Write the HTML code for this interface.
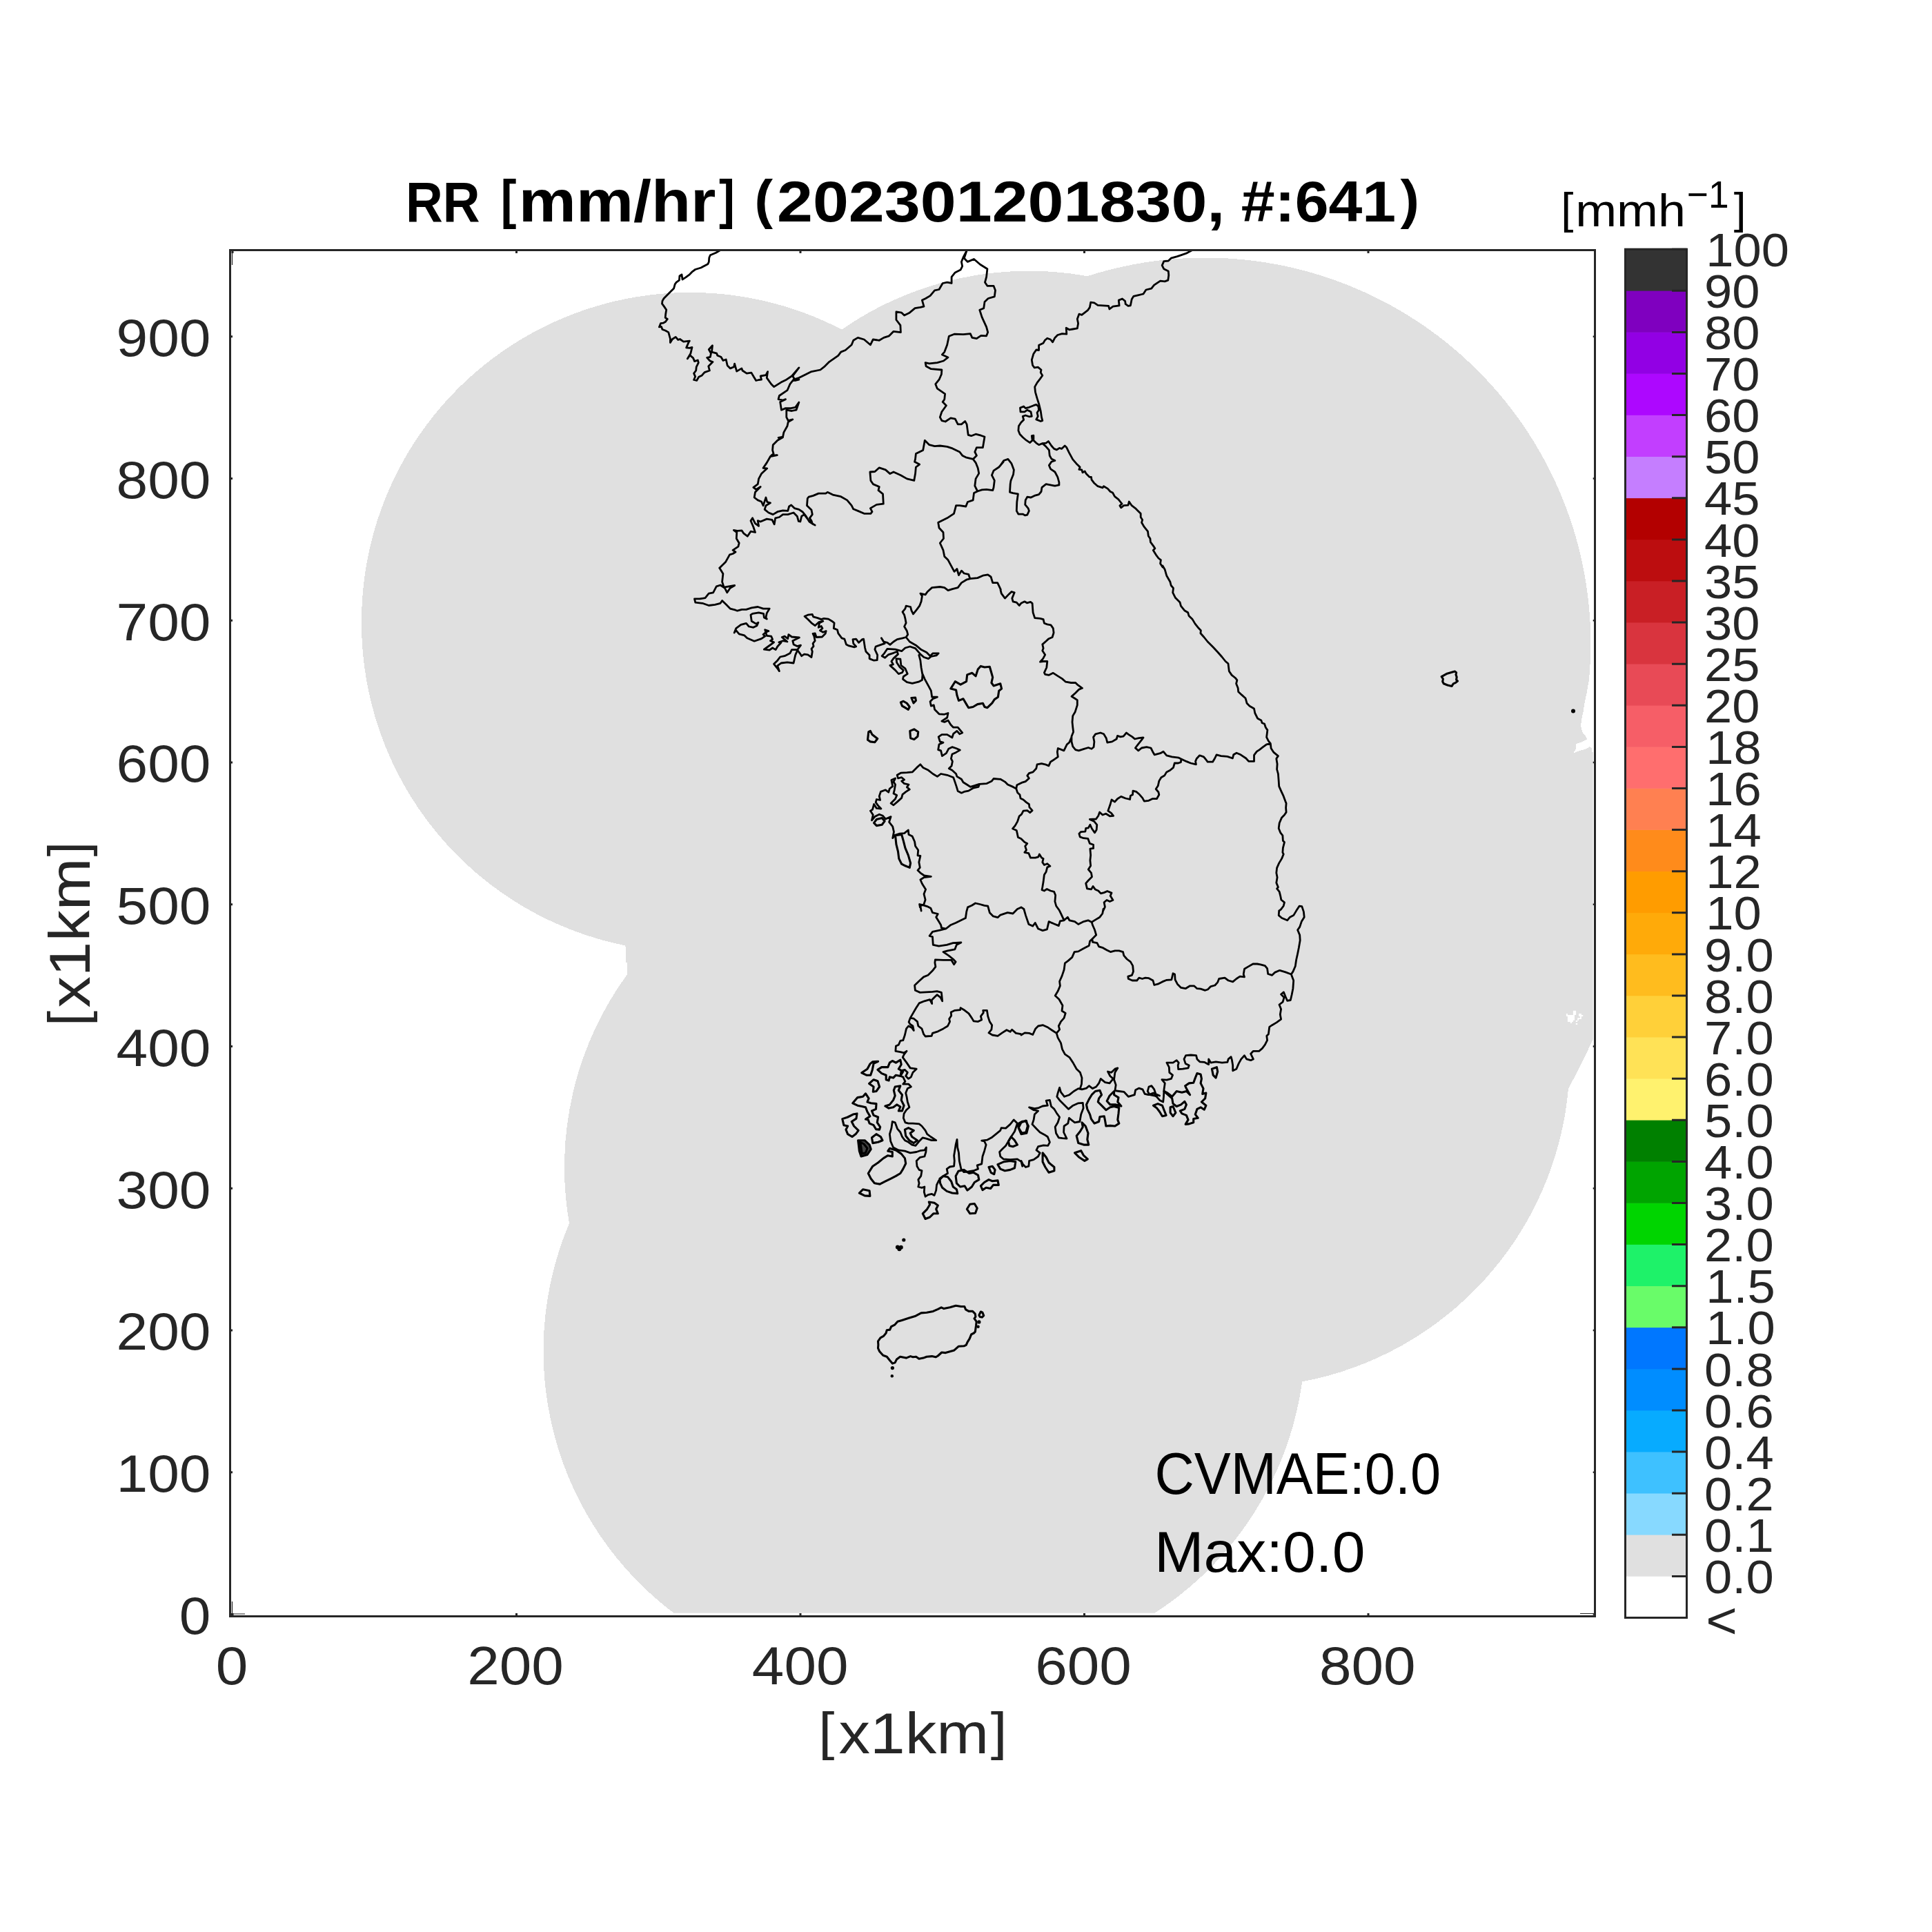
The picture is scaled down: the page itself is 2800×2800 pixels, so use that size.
<!DOCTYPE html>
<html><head><meta charset="utf-8"><title>RR</title>
<style>
html,body{margin:0;padding:0;background:#fff;}
body{width:2800px;height:2800px;overflow:hidden;font-family:"Liberation Sans",sans-serif;}
svg{display:block;position:absolute;left:0;top:0;}
text{font-family:"Liberation Sans",sans-serif;font-size:100px;}
</style></head><body>
<svg width="2800" height="2800" viewBox="0 0 2800 2800">
<defs><clipPath id="axclip"><rect x="335" y="364" width="1973.8" height="1973.8"/></clipPath></defs>

<g clip-path="url(#axclip)">
<path d="M1220.0 477.6A476 476 0 0 1 1576.0 400.2A558.8 558.8 0 0 1 2302.9 985.4L2299.8 1003.5L2296.6 1018.0L2294.6 1031.4L2292.5 1040.7L2291.0 1051.6L2293.5 1061.4L2297.7 1066.6L2300.3 1071.3L2293.5 1074.9L2284.2 1078.0L2283.7 1085.8L2280.0 1091.5L2288.4 1088.4L2298.7 1085.3L2303.9 1082.2L2307.0 1084.2L2307.0 1090.0L2309.6 1090.4L2325.0 1090.4L2325.0 1500.0L2309.5 1504.5L2298.5 1528.0L2286.0 1553.0L2273.0 1578.0A475.4 475.4 0 0 1 1887.2 2002.4A476 476 0 0 1 1673.8 2337.5L1670.0 2350.0L980.0 2350.0L977.4 2338.5A476 476 0 0 1 825.0 1773.0A474.6 474.6 0 0 1 908.9 1412.3L908.9 1395.2L907.3 1395.2L907.3 1372.7L905.7 1370.3A476 476 0 0 1 524.0 903.0A476.3 476.3 0 0 1 1220.0 477.6Z" fill="#e0e0e0" stroke="none" shape-rendering="crispEdges"/>
<path d="M2271.9 1471.1H2279.9V1481.1H2271.9ZM2279.9 1464.8H2284.1V1471.1H2279.9ZM2269.9 1469.0H2271.9V1473.1H2269.9ZM2279.9 1471.1H2282.0V1478.8H2279.9ZM2275.8 1481.1H2278.1V1483.0H2275.8ZM2288.0 1469.0H2291.9V1473.1H2288.0ZM2291.9 1471.1H2294.2V1473.1H2291.9ZM2290.0 1473.1H2291.9V1477.0H2290.0ZM2286.2 1475.2H2290.0V1477.0H2286.2ZM2286.2 1477.0H2288.0V1479.1H2286.2ZM2283.8 1479.1H2286.2V1481.1H2283.8ZM2283.8 1483.0H2286.2V1485.0H2283.8Z" fill="#fff"/>
<path d="M1043.9 362.6L1037.7 366.2L1029.4 369.8L1027.8 373.5L1027.3 379.7L1025.8 382.8L1015.9 388.0L1007.7 390.5L1003.5 393.6L999.4 397.8L993.2 402.4L989.0 405.0L988.0 397.8L984.9 399.9L984.4 406.1L980.2 409.2L978.2 411.8L976.6 418.0L972.5 422.1L966.3 428.3L962.1 432.5L960.0 436.1L959.5 440.2L962.6 444.4L965.7 449.0L964.7 455.2L964.2 460.4L967.3 462.5L964.2 466.6L961.1 468.2L957.5 468.7L955.4 473.9L958.5 473.4L960.0 477.5L964.2 479.0L968.8 481.6L971.4 491.0L971.4 496.6L974.5 491.5L979.2 488.4L982.8 492.5L985.4 491.5L990.6 495.1L999.4 494.1L997.8 496.6L994.7 503.9L999.4 504.4L1003.0 503.4L1000.9 512.2L996.3 519.9L999.9 514.8L1004.6 518.9L1006.6 523.6L1011.3 522.0L1012.3 525.6L1009.2 531.8L1008.7 537.0L1005.6 541.2L1007.7 545.8L1005.6 550.5L1009.7 551.5L1012.8 546.3L1017.0 544.3L1021.1 539.6L1028.4 537.0L1026.8 530.8L1033.0 524.6L1028.9 523.0L1024.7 518.4L1029.4 517.3L1030.4 512.2L1027.3 506.5L1032.5 500.8L1031.5 510.1L1038.7 512.2L1039.8 515.3L1044.9 517.3L1048.0 522.5L1052.2 521.0L1054.2 529.8L1058.4 533.9L1063.6 531.8L1064.6 527.2L1067.7 538.1L1074.9 533.9L1076.0 537.0L1082.2 541.2L1088.9 540.1L1092.5 546.3L1095.7 551.5L1100.0 550.5M1099.9 550.5L1103.5 550.2L1102.2 545.0L1110.0 543.7L1112.6 538.6L1111.3 547.6L1117.8 556.7L1121.6 560.6L1132.0 554.1L1139.8 550.2L1147.5 545.0L1157.9 532.9L1148.8 545.0L1152.7 551.5L1157.9 550.2L1150.1 551.5M1150.1 550.2L1157.9 547.6L1165.6 543.7L1176.0 538.6L1188.9 536.0L1195.4 530.8L1201.9 524.3L1214.8 515.3L1218.7 510.1L1225.2 507.5L1234.2 499.8L1236.8 493.3L1243.3 489.4L1252.3 492.0L1261.4 499.8L1265.3 492.0L1274.3 493.3L1280.8 489.4L1288.6 486.8L1295.0 480.3L1305.4 481.6L1304.9 471.3L1298.9 463.5L1298.9 451.9L1306.7 453.2L1310.6 457.0L1318.3 453.2L1326.1 446.7L1333.9 445.4L1339.0 444.1L1336.4 435.1L1341.6 432.5L1348.1 428.6L1354.6 420.8L1361.0 419.5L1366.2 410.5L1372.7 409.2L1379.1 410.5L1379.1 401.4L1384.3 394.9L1392.1 391.1L1394.7 385.9L1393.4 379.4L1396.0 372.9L1401.1 363.1M1401.1 363.1L1397.3 374.2L1402.4 379.4L1411.5 375.5L1420.5 383.3L1430.9 389.8L1429.6 401.4L1427.5 409.2L1430.9 414.3L1440.0 414.3L1442.5 420.8L1441.3 429.9L1432.2 432.5L1427.0 437.6L1425.7 446.7L1419.8 449.3L1423.1 459.6L1429.6 473.9L1431.7 481.6L1429.6 486.8L1421.8 486.3L1415.4 490.7L1408.9 489.4L1406.3 483.7L1396.0 484.7L1383.0 484.2L1375.3 487.3L1372.7 499.8L1368.8 510.1L1365.4 514.0L1374.0 517.9L1367.5 523.0L1358.4 525.6L1346.8 526.9L1341.1 525.6L1342.1 530.8L1349.4 534.7L1364.9 536.0L1364.4 542.5L1361.0 550.2L1355.8 556.7L1358.4 563.2L1369.6 570.9L1368.8 578.7L1366.2 582.6L1371.4 587.7L1364.9 596.8L1362.3 604.6L1364.9 609.7L1370.1 611.0L1377.8 605.9L1384.3 607.2L1388.2 614.9L1393.4 614.9L1398.6 610.5L1401.1 614.9L1403.2 630.4L1407.6 631.7L1414.1 629.2L1421.8 631.2L1427.0 633.0L1424.4 648.6L1415.4 648.6L1412.8 655.0L1415.4 660.2L1410.2 665.4L1414.1 670.6L1417.2 678.3L1418.7 686.1L1414.1 693.9L1412.8 704.2L1416.7 712.0L1411.5 714.6L1410.2 724.9L1402.4 727.5L1399.8 734.0L1390.8 732.7L1385.6 732.7L1382.5 744.3L1372.7 750.8L1359.7 757.3L1361.0 765.0L1367.0 771.5L1367.5 780.5L1362.3 787.0L1367.0 797.4L1368.8 806.4L1374.0 811.6L1383.0 828.4L1386.9 824.5L1389.5 833.6L1393.4 827.1L1397.3 831.0L1403.7 832.3L1405.8 838.8M1410.2 665.4L1399.8 662.8L1394.7 660.2L1390.8 655.0L1380.4 649.9L1372.7 647.3L1362.3 646.0L1354.6 646.7L1346.8 644.7L1340.3 638.2L1337.7 652.4L1327.4 657.6L1326.6 664.9L1325.6 669.3L1332.6 673.1L1327.4 677.0L1326.6 686.1L1324.8 696.4L1314.4 693.9L1305.4 688.7L1295.0 684.0L1289.9 686.6L1283.4 680.9L1274.3 677.8L1267.9 683.5L1260.9 684.0L1261.9 696.4L1265.3 701.6L1274.3 705.5L1273.0 710.7L1279.5 715.8L1280.3 730.1L1270.4 731.4L1261.4 736.6L1264.0 741.7L1261.9 744.3L1252.3 744.3L1243.3 740.4L1236.8 737.8L1234.2 732.7L1227.7 724.9L1218.7 719.7L1207.0 717.1L1199.3 713.3L1196.7 715.1L1186.3 715.1L1178.6 718.4L1172.1 720.2L1170.3 722.3L1169.5 732.7L1176.0 739.1L1177.3 745.6L1173.4 750.8L1176.0 754.7L1177.3 758.6M1150.1 550.2L1144.9 556.7L1141.0 565.7L1129.4 573.5L1128.1 578.7L1134.6 580.0L1138.5 578.7L1130.7 582.6L1132.5 594.2L1138.5 591.6L1146.2 591.6L1152.7 590.3L1157.9 583.1L1154.0 594.2L1147.5 595.5L1139.8 594.2L1139.8 604.6L1142.3 609.7L1148.8 607.9L1142.3 611.6L1141.0 617.5L1135.9 626.6L1134.6 633.0L1128.1 634.3L1134.6 633.8L1126.8 638.2L1120.3 644.7L1119.6 652.4L1121.1 657.6L1117.8 660.2L1126.3 659.7L1116.5 661.5L1111.3 670.6L1106.1 678.3L1111.8 678.8L1103.5 686.6L1099.6 693.9L1098.3 701.6L1091.9 706.3L1095.8 709.4L1102.2 705.5L1094.5 713.3L1093.2 721.0L1098.3 724.9L1103.5 727.0L1106.1 732.7L1108.7 724.9L1110.0 721.0L1111.8 727.5L1116.5 728.8L1110.0 732.7L1108.2 738.4L1113.9 743.0L1120.3 745.6L1126.8 741.7L1134.6 739.9L1141.8 740.4L1143.6 734.0L1146.7 731.9L1151.4 736.6L1157.9 738.4L1163.0 741.7L1168.2 748.2L1172.9 756.0L1178.6 759.8L1181.2 761.1L1174.7 757.3L1169.5 750.8L1165.6 745.6L1161.7 748.2L1159.9 756.0L1157.3 755.4L1155.3 748.2L1150.1 743.0L1141.8 745.6L1134.6 745.6L1129.4 749.5L1123.7 750.8L1122.2 759.8L1119.0 753.4L1111.3 752.1L1102.2 756.0L1098.3 754.7L1099.6 762.4L1094.5 758.6L1090.6 750.8L1088.0 754.7L1091.9 763.7L1094.5 771.5L1088.0 770.2L1083.3 777.2L1077.6 772.8L1075.1 768.9L1068.6 769.4L1063.4 768.4L1067.8 771.5L1067.3 780.5L1071.2 787.0L1069.9 792.2L1062.1 797.4L1066.0 800.0L1062.1 802.5L1057.5 803.8L1051.8 814.2L1042.7 823.3M1416.7 712.0L1423.1 709.9L1429.6 709.4L1438.7 710.7L1440.0 706.8L1441.3 696.4L1437.4 688.7L1440.0 682.2L1447.7 677.0L1454.2 669.3M1726.9 363.1L1719.2 367.2L1711.4 369.8L1706.2 371.6L1697.2 374.2L1693.3 378.1L1686.8 378.6L1684.2 384.6L1686.8 389.8L1693.3 393.1L1693.8 398.8L1692.8 406.1L1688.1 407.9L1681.6 407.1L1672.6 413.1L1668.7 418.2L1660.9 420.0L1657.0 426.0L1649.3 427.8L1642.8 429.4L1640.2 433.8L1638.4 442.8L1635.0 443.3L1631.2 440.7L1630.6 436.3L1626.5 433.0L1621.3 435.1L1622.1 442.8L1613.0 444.1L1607.9 448.0L1606.6 443.3L1598.8 442.8L1591.0 442.3L1585.9 438.9L1580.7 438.2L1579.4 445.4L1576.8 449.3L1567.8 456.3L1563.9 455.2L1561.3 462.2L1562.6 468.7L1561.3 475.9L1554.8 477.0L1549.6 477.8L1545.2 475.2L1545.8 484.2L1539.3 483.7L1532.8 485.5L1528.9 489.4L1525.6 495.9L1522.5 492.0L1517.8 490.2L1514.2 493.3L1512.1 497.2L1505.6 500.3L1505.6 507.5L1501.8 507.0L1497.9 512.7L1495.3 521.7L1496.6 529.5L1499.2 532.9L1504.3 532.1L1509.0 536.0L1508.2 539.9L1510.8 544.3L1507.5 548.9L1503.1 554.6L1499.7 560.6L1500.5 568.3L1503.1 577.4L1505.6 585.2L1508.2 595.5L1509.5 604.6L1510.8 609.7L1508.2 610.5L1501.8 607.9L1504.3 603.3L1503.1 598.1L1505.6 594.2L1504.9 589.0L1501.8 586.4L1497.9 587.7L1491.4 590.3L1486.2 591.6L1483.6 589.0L1478.5 591.1L1479.0 596.8L1484.9 596.8L1488.8 594.2L1494.0 596.8L1495.3 603.3L1491.4 603.8L1486.2 602.0L1482.3 603.3L1483.6 608.4L1479.8 612.3L1476.4 617.5L1475.9 624.0L1478.0 629.2L1482.3 633.8L1487.5 638.2L1492.7 641.6L1496.1 638.2L1495.3 631.7L1497.9 631.2L1497.9 638.2L1501.8 642.1L1505.6 644.7L1510.8 642.6L1516.0 642.1L1519.4 639.5L1523.8 646.0L1527.6 650.4L1531.5 651.9L1535.4 649.3L1538.5 650.4L1543.2 646.0L1545.8 648.6L1549.6 656.3L1554.8 665.9L1560.0 671.9L1565.2 677.0L1563.9 680.4L1567.8 680.9L1569.0 684.8L1572.2 683.0L1574.2 686.6L1578.9 691.3L1581.5 691.3L1582.0 695.1L1585.9 700.3L1591.0 704.7L1598.0 706.8L1599.6 704.7L1605.3 708.1L1609.2 712.5L1612.5 714.0L1615.6 719.7L1620.8 723.6L1623.9 727.5L1626.0 730.1L1622.9 732.7L1624.7 735.8L1628.6 732.7L1635.0 732.2L1636.3 727.0L1640.2 732.7L1645.4 736.6L1649.3 740.4L1653.2 744.3L1653.2 749.5L1655.7 753.4L1654.5 757.3L1658.3 763.7L1663.5 770.2L1664.3 776.7L1666.9 780.5L1667.4 785.7L1671.3 790.9L1673.9 794.8L1671.3 797.4L1675.2 803.8L1679.0 809.0L1682.4 811.6L1681.6 816.8L1685.0 822.0M1510.8 642.6L1516.0 647.3L1520.4 652.4L1521.2 660.2L1523.8 664.9L1528.9 667.5L1523.8 669.3L1520.4 674.4L1522.5 679.6L1528.9 684.0L1532.8 691.3L1534.9 699.0L1534.9 702.9L1528.9 704.2L1522.5 702.9L1516.0 701.6L1510.0 706.3L1509.0 712.5L1505.6 716.6L1499.2 718.4L1494.0 721.0L1488.8 720.2L1486.2 724.9L1485.7 731.4L1490.1 736.6L1491.4 740.4L1488.8 746.1L1485.7 746.9L1482.3 745.1L1475.9 745.1L1473.3 740.4L1473.8 727.5L1475.4 715.8L1468.1 714.6L1463.5 713.3L1464.2 701.6L1465.0 696.4L1468.6 687.4L1469.4 680.9L1466.0 671.9L1460.9 665.4L1454.7 667.5L1450.0 674.4M1042.7 823.1L1047.9 831.6L1046.6 843.3L1049.2 851.1L1064.7 848.5L1058.2 852.3L1053.8 858.8L1050.5 852.3L1044.0 848.0L1038.3 849.8L1033.6 858.8L1027.2 860.1L1022.0 866.6L1014.2 867.9L1006.5 867.9L1007.8 873.1L1018.1 874.3L1027.2 877.5L1036.2 876.4L1044.0 874.3L1046.6 870.5L1051.8 875.6L1058.2 882.1L1066.0 884.2L1068.6 885.2L1075.1 883.4L1081.5 883.4L1089.3 880.8L1098.3 879.5L1106.1 882.1L1115.2 882.1L1111.3 888.6L1110.0 895.1L1111.3 897.1L1107.4 895.1L1106.6 889.4L1099.6 887.8L1090.6 889.4L1088.0 891.2L1089.3 900.2L1095.8 904.1L1098.9 902.3L1097.0 906.7L1091.9 909.3L1085.4 908.0L1081.5 903.3L1073.8 905.4L1066.8 910.6L1064.2 917.0L1066.8 913.7L1071.2 918.9L1078.9 920.9L1082.8 924.8L1093.2 929.2L1103.5 925.6L1108.7 922.2L1106.1 919.6L1110.0 916.3L1113.9 914.5L1108.7 912.7L1111.3 921.4L1117.8 922.2L1119.6 926.6L1116.5 928.7L1121.6 930.8L1113.9 936.5L1107.4 941.1L1115.2 942.2L1119.6 939.0L1124.2 941.6L1126.8 937.0L1132.0 931.3L1128.9 930.8L1134.6 928.7L1141.0 930.0L1133.3 923.5L1137.2 922.2L1141.8 925.6L1142.9 919.6L1147.5 923.0L1158.4 924.0L1148.8 928.7L1150.1 933.9L1155.3 936.5L1160.5 935.2L1156.6 940.3L1152.7 949.4L1150.1 961.0L1141.0 959.8L1132.0 961.0L1126.8 964.9L1129.4 972.7L1126.8 968.8L1121.6 962.3L1126.8 957.2L1130.7 952.0L1137.2 950.7L1144.9 946.8L1147.5 941.6L1155.3 941.6L1159.2 946.8L1161.7 950.7L1165.6 948.1L1170.8 948.9L1176.0 952.5L1177.3 944.2L1176.0 940.3L1179.1 936.5L1178.1 932.6L1181.2 928.7L1179.9 922.2L1178.1 918.3L1181.2 917.8L1183.2 923.5L1191.5 923.0L1196.2 918.3L1197.2 914.5L1192.8 916.3L1188.4 913.7L1192.0 910.6L1190.2 907.5L1186.3 909.3L1187.6 902.8L1192.8 900.2L1186.9 901.5L1181.2 906.7L1176.0 902.8L1170.8 897.6L1166.1 893.2L1170.8 891.2L1177.3 890.4L1178.6 893.8L1185.0 895.6L1190.2 897.6L1194.1 896.3L1200.6 897.1L1205.7 900.2L1209.1 902.8L1208.3 910.6L1213.5 912.7L1214.8 917.8L1220.0 924.8L1223.9 926.1L1226.4 933.9L1230.3 935.9L1238.1 937.8L1240.7 937.0L1236.8 932.6L1236.0 926.6L1240.7 926.1L1244.6 931.3L1249.7 926.6L1251.6 926.1L1253.6 939.0L1254.9 944.2L1260.1 949.4L1260.1 954.6L1266.6 957.2L1271.2 956.6L1271.7 949.4L1267.9 941.1L1269.2 937.0L1278.2 933.9L1282.1 932.6L1277.4 924.8L1280.8 930.0L1286.0 931.3L1289.9 934.4L1295.0 930.0L1300.2 926.6L1308.0 924.8L1313.1 923.5L1315.7 919.6L1314.4 914.5L1310.6 908.0L1313.1 902.8L1311.9 896.3L1310.6 891.2L1308.0 886.8L1311.9 882.1L1313.1 878.2L1319.6 879.5L1320.9 884.7L1323.5 889.9L1328.7 883.4L1332.6 878.2L1335.1 871.8L1336.4 864.0L1333.9 860.1L1341.1 861.9L1344.2 857.5L1350.7 851.6L1362.3 850.5L1368.8 851.6L1374.0 855.7L1380.4 853.6L1388.2 851.6L1393.4 844.6L1400.6 840.2L1406.3 838.6M1313.1 923.5L1318.3 930.0L1327.4 935.2L1335.1 941.6L1342.9 945.5L1348.1 950.7L1352.0 946.8L1360.2 946.8L1357.1 949.9L1349.4 951.5L1345.5 954.6L1339.0 952.5M1339.0 952.5L1333.9 948.1L1326.6 939.6L1318.8 937.0L1311.9 939.0L1306.7 943.7L1297.6 941.1L1286.0 940.3L1281.6 946.8L1278.2 950.7L1282.6 953.3L1287.3 948.9L1295.0 946.3L1300.2 944.2L1301.5 948.1L1295.0 954.1L1291.9 958.5L1294.5 962.9L1289.9 964.4L1297.6 971.4L1302.3 976.6L1307.5 974.8L1309.3 971.4L1304.1 967.0L1299.7 960.3L1298.9 954.6L1304.9 955.1L1305.9 964.4L1311.9 968.8L1315.2 976.6L1309.3 980.5L1308.5 984.3L1314.4 988.7L1322.2 990.3L1331.3 988.2L1336.4 985.6L1337.0 977.9L1335.1 967.5L1333.9 957.2L1331.8 949.4M1336.4 975.3L1340.3 984.3L1345.5 993.9L1349.4 1001.2L1350.7 1010.2L1358.4 1010.2L1352.0 1012.8L1348.1 1016.7L1349.4 1023.2L1353.3 1021.9L1354.6 1028.3L1361.0 1034.8L1368.8 1035.3L1374.0 1033.5L1372.7 1040.0L1364.9 1045.2L1368.8 1046.4L1374.0 1043.9L1377.8 1050.3L1381.7 1054.2L1388.2 1054.2L1394.7 1062.0L1390.8 1063.8L1386.9 1059.4L1381.7 1063.3L1379.9 1069.0L1372.7 1064.6L1364.9 1064.6L1360.2 1067.9L1362.3 1074.9L1367.0 1076.2L1361.0 1078.8L1359.7 1086.6L1363.6 1087.9L1365.4 1095.6L1371.4 1091.7L1374.7 1085.3L1379.9 1082.7L1385.6 1084.5L1391.3 1087.1L1385.6 1090.4L1379.9 1093.0L1378.4 1099.5L1380.4 1103.4L1379.1 1109.9L1375.3 1113.7L1379.9 1116.3L1385.6 1121.5L1386.9 1125.4L1393.4 1129.3L1396.0 1133.7L1402.4 1137.8L1406.3 1140.4L1411.5 1138.8L1419.3 1137.0L1418.0 1140.4L1410.2 1142.2L1403.7 1146.1L1397.3 1147.4L1393.4 1149.2L1388.2 1146.6L1386.1 1139.6L1383.5 1131.9L1381.7 1126.7L1372.7 1123.3L1363.6 1121.5L1358.4 1125.4L1352.0 1121.5L1345.5 1116.3L1337.7 1112.4L1333.9 1107.8L1328.7 1112.4L1322.2 1118.9L1314.4 1119.7L1305.4 1120.2L1300.2 1123.3L1301.5 1128.0L1306.7 1126.7L1310.6 1130.0L1306.7 1131.9L1310.6 1135.7L1317.0 1137.0L1314.4 1140.9L1318.3 1144.0L1313.1 1147.4L1308.0 1151.3L1306.7 1156.4L1301.5 1161.1L1295.0 1166.8L1291.1 1164.2L1297.6 1157.7L1299.7 1152.6L1295.0 1150.0L1296.3 1144.8L1297.6 1137.0L1295.0 1133.1L1297.6 1128.0L1291.9 1130.6L1293.7 1139.6L1289.3 1143.0L1287.8 1148.2L1283.4 1144.8L1276.4 1147.4L1274.3 1153.9L1275.6 1159.5L1270.4 1158.5L1269.2 1162.9L1273.0 1168.1L1276.9 1172.0L1270.4 1171.4L1266.6 1165.5L1264.5 1173.3L1261.4 1175.1L1265.3 1181.0L1263.5 1188.8L1267.9 1183.6L1274.3 1180.2L1279.5 1182.3L1283.4 1187.0L1291.1 1183.6L1288.6 1191.4L1293.7 1197.8L1295.5 1205.6L1293.7 1214.7L1297.1 1210.3L1304.1 1208.2L1310.6 1207.7L1316.3 1203.0L1317.0 1209.5L1322.2 1212.1L1325.6 1219.8L1326.6 1226.3L1330.7 1232.0L1330.0 1239.8L1333.9 1240.5L1331.8 1249.6L1333.3 1257.4L1330.0 1261.3L1333.9 1265.1L1339.5 1269.0L1349.4 1270.3L1339.0 1271.6L1333.9 1275.0L1336.4 1280.7L1341.6 1288.9L1339.0 1295.7L1341.1 1304.0L1339.0 1310.4L1333.9 1313.0L1335.1 1320.0M1406.3 1140.4L1411.5 1138.8L1419.3 1136.3L1429.6 1135.7L1437.4 1131.9L1440.0 1128.5L1450.1 1129.3M1406.3 838.6L1416.7 837.6L1424.4 834.2L1431.7 832.9L1436.1 836.0L1438.7 844.6L1445.7 844.6L1450.3 854.4M1685.0 820.0L1688.1 825.2L1690.7 834.2L1695.9 843.3L1697.2 848.5L1700.5 852.3L1699.7 858.8L1703.6 866.6L1710.1 873.1L1711.4 878.2L1716.6 884.7L1721.7 887.8L1723.0 892.5L1728.2 897.6L1732.1 904.1L1737.3 910.6L1740.4 913.7L1739.9 917.8L1745.0 923.5L1750.2 930.0L1758.0 937.8L1765.2 945.5L1770.9 952.0L1776.1 958.5L1780.0 961.8L1781.3 972.7L1785.1 978.4L1790.3 982.5L1792.9 985.6L1791.6 990.8L1794.2 997.3L1794.7 1002.5L1799.4 1006.9L1805.1 1012.0L1807.1 1019.3L1811.0 1023.2L1817.5 1027.0L1818.8 1033.5L1822.7 1041.3L1827.8 1043.9L1829.1 1047.7L1832.5 1049.0L1834.3 1054.2L1836.9 1058.1L1835.6 1068.4L1838.2 1073.6L1841.3 1077.5L1842.1 1084.5L1846.0 1090.4L1852.4 1095.6L1849.8 1099.5L1851.1 1107.3L1850.6 1115.0L1852.4 1121.5L1853.2 1131.9L1853.7 1139.6L1856.8 1146.6L1860.2 1153.9L1862.8 1161.1L1864.1 1164.2L1863.6 1170.7L1864.1 1177.1L1861.5 1181.0L1857.6 1184.9L1854.2 1192.7L1853.2 1200.4L1855.8 1206.9L1858.9 1210.8L1859.4 1218.6L1861.5 1220.6L1859.4 1228.9L1858.9 1235.4L1860.2 1238.0L1857.6 1244.4L1853.7 1250.9L1850.6 1257.9L1849.8 1265.1L1851.1 1271.6L1849.8 1279.4L1852.4 1285.8L1850.6 1287.9L1854.2 1292.3L1855.8 1298.8L1856.8 1304.0L1861.5 1307.8L1860.2 1313.0L1856.3 1318.2L1853.7 1320.0M1841.3 1077.5L1835.6 1078.8L1830.4 1082.7L1825.3 1086.6L1821.4 1089.2L1817.5 1094.3L1817.5 1103.4L1809.7 1103.4L1805.8 1099.0L1798.1 1093.8L1792.1 1091.2L1787.7 1093.8L1786.4 1099.0L1778.7 1096.4L1769.6 1095.6L1763.1 1093.8L1760.6 1099.0L1757.5 1104.2L1750.2 1104.2L1747.1 1100.0L1744.5 1096.9L1738.6 1094.8L1734.2 1099.5L1732.6 1103.4L1733.4 1107.8L1725.6 1106.0L1719.2 1103.4L1711.9 1100.0L1708.3 1098.2L1698.4 1096.9L1690.7 1094.8L1686.0 1089.2L1681.6 1091.7L1673.1 1093.8L1670.5 1089.2L1667.9 1084.0L1661.7 1082.7L1654.5 1084.0L1649.8 1087.9L1645.4 1084.0L1649.3 1078.8L1654.5 1072.3L1657.0 1069.0L1650.6 1069.7L1644.6 1071.0L1641.0 1067.9L1635.8 1064.6L1632.5 1062.0L1628.1 1067.2L1623.9 1067.9L1619.5 1066.4L1618.2 1071.0L1611.7 1074.9L1604.8 1076.2L1603.2 1069.7L1599.6 1063.8L1594.9 1062.0L1587.7 1063.8L1584.6 1068.4L1585.9 1074.9L1585.1 1082.7L1582.0 1085.3L1577.3 1083.5L1571.1 1085.3L1563.4 1087.9L1558.7 1086.6L1554.8 1081.9L1553.0 1074.9L1553.0 1067.2L1555.6 1060.7L1554.8 1054.2L1554.0 1046.4L1554.8 1037.4L1558.2 1031.7L1561.3 1021.9L1561.3 1014.6L1557.4 1012.0L1553.0 1009.4L1558.7 1004.3L1563.9 999.1L1568.5 997.3L1561.3 992.1L1558.7 989.5L1552.2 989.5L1544.5 988.2L1539.3 983.6L1533.3 979.9L1526.3 975.3L1519.9 978.4L1514.7 977.3L1513.4 974.8L1516.8 967.5L1517.8 958.5L1512.1 958.5L1507.5 959.2L1511.6 954.6L1514.7 948.9L1510.8 942.9L1512.1 939.6L1510.8 933.9L1516.0 929.2L1519.4 926.1L1525.1 923.5L1527.1 917.0L1526.3 910.6L1523.0 905.9L1517.8 904.9L1513.4 903.3L1512.1 897.6L1507.5 896.3L1499.7 895.6L1497.1 887.8L1496.1 874.3L1493.5 872.3L1488.3 873.8L1484.9 871.8L1479.8 874.3L1477.2 877.5L1473.3 873.1L1468.1 871.8L1466.8 867.1L1470.2 858.8L1466.0 857.5L1462.4 860.9L1456.5 867.1L1451.3 860.1L1450.0 854.9M1553.0 1068.4L1549.6 1076.2L1546.3 1078.8L1541.9 1087.9L1533.3 1084.5L1532.3 1089.7L1533.3 1096.9L1527.6 1100.8L1522.5 1104.2L1519.9 1109.9L1514.7 1107.8L1509.5 1106.7L1503.1 1107.8L1501.8 1113.7L1497.1 1118.9L1491.4 1120.7L1488.8 1124.1L1491.4 1128.0L1486.2 1132.6L1480.5 1134.4L1473.8 1137.8L1472.8 1143.0M1450.0 1129.3L1456.5 1133.1L1460.4 1137.0L1468.1 1140.4L1472.8 1143.0L1474.6 1148.7L1478.0 1151.8L1479.0 1157.0L1483.1 1159.0L1487.5 1162.9L1491.4 1165.5L1491.9 1169.9L1496.1 1174.6L1492.7 1177.7L1488.8 1174.6L1483.1 1175.1L1480.5 1180.2L1477.2 1182.8L1474.6 1190.6L1471.2 1196.6L1467.6 1201.0L1473.3 1203.5L1475.4 1213.4L1479.8 1215.4L1484.9 1220.6L1488.8 1222.4L1485.7 1226.3L1487.5 1232.0L1484.9 1235.4L1490.9 1236.7L1493.5 1243.1L1500.5 1243.1L1504.9 1241.8L1506.4 1238.0L1509.5 1243.1L1512.1 1244.4L1510.8 1249.6L1513.4 1253.5L1517.8 1251.7L1521.9 1255.3L1517.8 1256.9L1516.0 1263.8L1513.4 1267.7L1512.1 1278.1L1510.8 1285.8L1510.0 1289.7L1513.4 1291.0L1517.3 1288.4L1522.5 1291.0L1527.6 1292.3L1529.7 1297.5L1528.9 1306.5L1530.7 1313.0L1535.4 1319.5M1711.9 1100.0L1711.4 1104.7L1707.5 1106.0L1702.3 1106.0L1700.5 1112.4L1695.9 1116.3L1690.7 1118.9L1687.6 1124.1L1682.9 1126.7L1679.8 1131.9L1678.3 1138.8L1675.2 1143.5L1679.0 1148.2L1679.8 1151.8L1676.4 1157.7L1670.0 1157.7L1664.8 1160.3L1658.3 1161.1L1655.7 1156.4L1651.3 1151.3L1646.7 1147.4L1642.0 1146.1L1641.5 1151.8L1638.4 1153.3L1637.6 1158.5L1631.2 1157.0L1624.7 1154.4L1619.5 1157.7L1615.6 1162.1L1611.0 1159.0L1609.2 1165.5L1605.8 1175.1L1610.5 1178.4L1613.6 1182.3L1608.4 1182.8L1602.7 1179.2L1598.0 1181.0L1593.6 1177.1L1591.8 1182.3L1588.5 1187.0L1579.4 1187.5L1585.9 1190.6L1589.8 1195.3L1589.2 1202.5L1586.6 1206.9L1582.5 1201.0L1579.9 1195.3L1577.3 1199.9L1573.7 1200.4L1572.9 1205.1L1566.5 1205.6L1563.9 1208.2L1565.2 1212.9L1570.3 1214.7L1576.8 1215.4L1579.4 1222.4L1584.6 1224.2L1584.6 1229.4L1579.9 1230.2L1580.7 1239.3L1579.9 1247.0L1580.7 1254.8L1577.3 1260.0L1581.5 1265.1L1582.5 1270.8L1577.3 1276.0L1573.7 1280.1L1575.5 1287.9L1581.5 1288.9L1584.1 1284.5L1587.2 1288.9L1591.8 1291.0L1595.4 1294.9L1600.1 1293.6L1604.8 1291.5L1611.0 1294.1L1609.2 1298.3L1613.0 1304.5L1608.4 1306.5L1604.0 1304.5L1600.1 1307.8L1601.4 1314.3L1598.8 1320.0M1333.4 1314.9L1332.6 1310.5L1337.3 1311.6L1343.7 1313.6L1348.9 1316.2L1351.5 1322.7L1359.3 1324.5L1356.7 1329.2L1360.6 1335.6L1363.7 1340.8L1364.4 1344.7L1370.9 1346.0L1363.1 1347.8L1351.5 1350.4L1347.1 1356.3L1351.5 1357.6L1352.3 1369.3L1360.6 1371.1L1372.2 1369.3L1381.3 1366.7L1392.9 1365.9L1386.4 1369.3L1383.9 1375.8L1373.5 1377.8L1367.0 1379.6L1374.8 1384.8L1381.3 1390.0L1385.1 1393.9L1382.6 1397.8L1378.7 1391.3L1367.0 1391.3L1355.4 1390.8L1354.9 1395.2L1355.9 1401.1L1351.5 1406.8L1345.0 1413.3L1338.6 1415.9L1332.1 1421.8L1325.6 1428.0L1326.4 1435.3L1333.4 1438.4L1342.4 1437.9L1351.5 1437.3L1358.0 1436.6L1364.4 1438.4L1365.7 1450.8L1363.1 1445.6L1358.0 1441.7L1354.1 1445.6L1350.2 1449.5L1350.7 1454.7L1347.6 1448.7L1339.9 1450.8L1332.1 1453.9L1327.4 1461.2L1323.0 1468.9L1319.2 1475.4L1317.1 1481.3L1319.2 1484.5L1323.0 1487.0L1324.3 1493.5L1321.7 1489.6L1316.6 1487.0L1313.5 1490.9L1311.4 1500.0L1308.8 1507.7L1304.9 1508.3L1302.3 1514.2L1298.4 1516.0L1297.9 1523.3L1304.9 1524.6L1310.1 1525.9L1314.0 1523.3L1310.1 1528.4L1308.3 1532.3L1314.0 1540.1L1319.2 1547.9L1328.2 1549.2L1323.0 1554.3L1320.4 1560.8L1316.6 1563.4L1312.7 1559.5L1315.3 1554.3L1311.4 1550.4L1306.2 1551.7L1304.9 1559.5L1308.8 1560.8L1311.9 1567.3L1308.8 1571.1L1316.6 1571.1L1320.4 1575.0L1315.3 1577.6L1312.7 1584.1L1314.0 1589.3L1315.3 1597.0L1317.9 1604.8L1313.5 1608.7L1310.1 1613.9L1309.3 1620.3L1311.9 1626.8L1316.6 1628.1L1323.0 1628.1L1332.1 1628.9L1336.0 1632.0L1341.1 1638.4L1343.7 1643.6L1348.9 1647.5L1356.7 1652.7L1350.2 1652.7L1342.4 1650.1L1337.3 1648.8L1332.1 1654.0L1326.9 1660.4L1321.7 1659.1L1316.6 1655.3L1311.4 1652.7L1307.5 1647.5L1304.9 1641.0L1300.5 1635.8L1297.2 1626.8L1293.3 1625.5L1292.0 1634.6L1289.4 1643.6L1290.7 1654.0L1294.6 1663.0L1302.3 1666.9L1311.4 1668.2L1319.2 1670.8L1328.2 1669.5L1333.4 1667.7L1339.9 1666.9L1342.4 1663.0L1341.9 1669.5L1339.9 1676.0L1333.4 1677.3L1328.2 1682.4L1329.0 1690.2L1332.1 1695.4L1336.0 1696.7L1334.7 1704.4L1330.8 1709.6L1332.1 1714.8L1330.8 1720.0L1336.0 1721.3L1339.9 1720.0L1339.3 1727.7L1341.1 1734.2L1345.0 1731.6L1350.2 1730.3L1354.1 1732.4L1356.7 1725.1L1357.5 1717.4L1360.6 1710.9L1367.0 1704.4L1373.5 1700.5L1372.2 1694.1L1376.6 1691.0L1382.6 1690.2L1383.3 1682.4L1382.6 1674.7L1383.9 1666.9L1385.1 1659.1L1387.0 1651.4L1387.7 1663.0L1389.5 1670.8L1390.3 1682.4L1392.9 1694.1L1396.8 1698.7L1403.3 1698.0L1411.0 1696.7L1417.5 1694.1L1416.2 1688.9L1422.7 1686.8L1424.0 1676.0L1426.6 1668.2L1429.1 1659.1L1426.6 1654.0L1422.7 1653.2L1430.4 1652.2L1436.9 1648.8L1443.4 1643.6L1449.8 1638.4L1451.1 1634.6L1457.6 1635.1L1464.1 1629.4L1469.3 1622.9L1474.4 1628.1L1473.1 1632.0L1470.5 1639.7L1465.4 1647.5L1461.5 1654.0L1457.6 1660.4L1452.4 1665.6L1448.6 1669.5L1449.8 1676.0L1454.2 1679.8L1464.1 1680.6L1474.4 1679.8L1480.1 1683.7L1481.7 1690.2M1370.9 1346.0L1377.4 1340.8L1385.1 1337.5L1394.2 1333.1L1399.4 1330.5L1400.7 1321.4L1402.5 1314.9L1408.4 1312.3L1413.6 1309.0L1420.1 1310.5L1426.6 1312.3L1431.7 1313.1L1434.3 1322.7L1439.5 1327.9L1446.0 1329.7L1449.8 1326.1L1460.2 1322.7L1468.0 1324.0L1474.4 1317.5L1479.9 1314.9M1319.2 1475.4L1324.3 1476.2L1329.5 1480.6L1330.8 1487.0L1336.0 1490.9L1338.6 1498.7L1341.1 1502.0L1350.2 1501.3L1351.5 1497.4L1359.3 1494.8L1367.0 1490.9L1373.5 1487.0L1376.6 1480.6L1375.6 1476.7L1378.7 1472.0L1378.2 1466.9L1383.9 1464.3L1391.6 1463.7L1392.1 1460.6L1398.1 1464.3L1404.0 1468.9L1408.4 1475.4L1411.0 1479.8L1417.5 1480.6L1422.7 1478.0L1421.4 1472.8L1425.3 1467.6L1424.7 1464.3L1430.4 1464.3L1431.7 1472.8L1434.3 1480.6L1437.7 1485.7L1436.9 1492.2L1433.0 1496.9L1438.2 1500.0L1446.0 1501.3L1452.4 1496.9L1458.9 1492.7L1464.1 1495.3L1466.7 1492.2L1472.4 1497.4L1479.6 1498.7M1853.7 1320.1L1853.2 1326.6L1857.8 1330.5L1865.6 1333.8L1869.5 1329.2L1874.7 1326.6L1878.6 1320.1L1883.2 1313.1L1886.8 1313.6L1889.4 1321.4L1890.2 1329.2L1886.3 1335.6L1883.7 1343.4L1880.6 1347.8L1883.7 1355.1L1884.2 1362.8L1882.4 1373.2L1880.6 1382.2L1878.6 1391.3L1877.3 1400.3L1873.9 1408.1L1871.3 1412.0L1874.7 1421.0L1873.9 1432.7L1872.1 1441.7L1870.3 1449.5L1865.6 1450.3L1863.0 1444.3L1860.4 1437.9L1856.6 1441.0L1861.0 1445.6L1859.1 1452.1L1854.0 1456.0L1856.6 1462.5L1855.3 1470.2L1856.6 1477.2L1850.1 1481.9L1843.6 1485.7L1839.7 1488.3L1838.4 1498.7L1835.8 1501.3L1836.6 1507.7L1833.3 1514.2L1829.4 1519.4L1824.7 1523.3L1816.4 1523.3L1812.6 1527.2L1816.4 1534.9L1812.6 1536.7L1806.6 1534.9L1803.5 1529.7L1798.8 1534.9L1795.2 1541.4L1791.9 1549.2L1786.7 1551.7L1786.7 1544.0L1785.4 1536.2L1784.1 1531.6L1780.2 1534.9L1778.9 1539.3L1771.1 1540.1L1762.1 1538.8L1754.8 1540.1L1751.7 1534.9L1751.7 1542.7L1745.3 1539.3L1738.8 1538.8L1734.9 1534.9L1733.6 1529.7L1725.9 1529.0L1718.6 1529.7L1716.0 1534.9L1718.1 1541.4L1723.3 1544.0L1722.0 1547.9L1714.2 1549.2L1707.7 1549.7L1707.2 1544.0L1708.3 1540.1L1705.2 1536.7L1700.0 1540.1L1690.9 1540.1L1694.3 1546.6L1694.8 1554.3L1699.5 1558.2L1697.4 1563.4L1690.9 1565.2L1683.9 1564.7L1688.3 1569.9L1687.0 1578.9L1686.5 1589.3L1685.7 1597.0L1680.6 1594.4L1676.2 1589.3L1673.6 1588.0L1666.3 1586.7L1663.2 1581.5L1665.0 1575.0L1668.9 1573.7L1672.8 1578.9L1675.4 1586.7L1680.6 1588.0L1671.5 1584.1L1664.3 1586.7L1659.1 1585.4L1656.0 1578.9L1650.8 1577.1L1645.6 1579.7L1644.3 1586.7L1635.3 1589.3L1628.8 1582.3L1621.8 1581.5L1615.9 1580.7L1617.2 1572.4L1614.6 1564.7L1615.9 1554.3L1619.8 1547.9L1615.9 1549.2L1610.7 1554.3L1605.5 1553.0L1608.9 1559.5L1613.3 1563.4L1608.1 1569.9L1601.6 1568.6L1595.2 1563.4L1592.6 1569.9L1588.7 1575.0L1583.5 1577.6L1578.3 1573.7L1574.5 1577.1L1568.0 1578.9L1562.8 1577.6L1556.3 1581.5L1549.9 1586.7L1542.6 1589.3L1537.5 1582.8L1535.6 1576.3L1533.1 1584.1L1531.8 1589.3L1535.6 1594.4L1542.1 1600.9L1548.6 1607.4L1555.1 1602.2L1562.8 1598.8L1569.3 1598.3L1570.1 1606.1L1566.7 1615.1L1564.9 1625.5L1557.6 1626.8L1552.5 1622.9L1549.4 1620.3L1547.8 1628.1L1542.1 1632.0L1541.6 1641.0L1546.0 1650.1L1540.0 1649.6L1534.3 1648.8L1530.5 1642.3L1529.2 1633.3L1533.1 1626.8L1535.6 1619.0L1531.8 1613.9L1527.9 1607.4L1523.5 1603.5L1521.4 1594.4L1516.2 1595.2L1518.3 1602.2L1511.1 1603.0L1505.4 1605.6L1499.4 1606.6L1491.6 1604.8L1498.1 1608.7L1504.6 1610.0L1499.4 1615.1L1498.1 1622.9L1496.0 1629.4L1502.0 1635.8L1507.2 1641.0L1513.6 1644.4L1518.3 1647.5L1521.4 1655.3L1518.8 1660.4L1512.3 1659.9L1504.6 1661.7L1502.0 1666.9L1507.2 1670.8L1504.6 1676.0L1498.1 1680.6L1491.6 1682.4L1490.9 1690.2L1486.5 1691.5L1482.6 1687.6L1480.0 1682.4M1871.3 1412.0L1863.0 1408.9L1854.7 1406.3L1847.5 1409.4L1843.6 1413.3L1837.7 1411.5L1836.6 1403.7L1833.3 1399.6L1826.8 1397.8L1822.1 1397.0L1815.9 1397.0L1808.7 1401.1L1803.5 1404.2L1802.2 1412.0L1803.5 1415.9L1797.0 1415.1L1791.9 1418.5L1786.7 1422.9L1780.2 1421.0L1775.0 1417.2L1766.7 1418.5L1764.7 1423.6L1760.8 1428.0L1754.8 1429.6L1750.4 1434.0L1746.6 1435.3L1740.1 1433.2L1734.9 1432.7L1730.5 1428.8L1724.6 1428.8L1718.1 1432.7L1711.6 1431.4L1706.4 1426.2L1703.1 1419.8L1702.6 1412.0L1700.0 1410.7L1697.9 1419.8L1690.9 1420.3L1684.5 1422.9L1678.0 1426.2L1672.8 1427.5L1671.0 1421.0L1665.0 1417.7L1659.9 1417.2L1655.5 1418.5L1650.8 1417.2L1647.7 1421.0L1641.0 1421.0L1635.3 1418.5L1634.8 1415.1L1640.5 1413.3L1642.5 1408.1L1641.7 1399.6L1638.4 1393.9L1633.2 1390.0L1628.8 1384.8L1627.5 1379.6L1621.8 1377.8L1615.9 1377.8L1609.4 1379.6L1604.2 1377.0L1598.5 1373.7L1592.6 1371.9L1590.0 1366.7L1583.5 1365.4L1583.0 1360.7M1583.0 1360.7L1588.7 1355.1L1586.6 1347.8L1583.5 1340.8L1582.2 1336.4L1587.4 1333.1L1593.9 1329.2L1597.8 1324.0L1599.0 1317.5M1480.0 1314.9L1483.9 1317.5L1486.5 1326.6L1490.9 1339.5L1496.8 1342.1L1500.2 1337.5L1504.6 1346.0L1511.1 1348.6L1517.5 1346.8L1520.1 1335.6L1527.9 1339.0L1534.3 1341.6L1536.4 1334.9L1542.1 1333.8L1547.3 1329.2L1549.9 1333.8L1557.6 1335.6L1562.8 1339.5L1570.6 1335.6L1577.0 1333.8L1582.2 1336.4M1535.4 1319.6L1538.2 1325.3L1542.1 1333.8M1583.0 1360.7L1579.6 1364.1L1578.3 1370.6L1570.6 1374.5L1562.8 1378.9L1557.1 1379.6L1553.8 1387.4L1547.8 1392.6L1543.4 1395.9L1542.1 1405.5L1539.0 1414.6L1535.6 1422.3L1536.4 1428.8L1533.1 1436.6L1529.2 1443.0L1534.9 1448.2L1540.0 1457.3L1539.0 1465.0L1544.2 1468.4L1542.1 1475.4L1537.5 1480.6L1534.3 1487.0L1535.6 1492.2L1531.2 1497.4L1533.1 1503.9L1537.5 1511.6L1539.5 1520.7L1543.4 1527.9L1549.9 1532.3L1555.1 1540.1L1560.2 1549.2L1565.4 1554.3L1568.0 1562.1L1567.5 1571.1L1565.4 1577.6L1568.0 1578.9M1480.0 1500.0L1485.2 1496.9L1491.6 1497.4L1496.8 1499.5L1500.7 1490.9L1504.6 1487.0L1511.6 1485.7L1518.8 1489.1L1525.3 1493.5L1531.2 1497.4" fill="none" stroke="#000" stroke-width="2.8" stroke-linejoin="round" stroke-linecap="round"/><path d="M1266.6 1192.7L1270.4 1187.5L1278.2 1185.4L1282.1 1190.1L1278.2 1195.3L1270.4 1196.6L1266.6 1192.7ZM1377.8 998.1L1384.3 987.7L1392.1 992.1L1400.6 987.7L1401.7 977.9L1408.9 975.3L1414.1 979.9L1417.2 970.1L1421.3 965.4L1427.0 967.0L1434.3 966.2L1436.9 975.3L1438.7 981.7L1436.9 989.5L1440.0 993.9L1449.8 990.8L1451.6 998.1L1447.7 1001.2L1446.4 1010.2L1441.3 1013.6L1437.9 1018.8L1430.9 1025.7L1427.0 1024.5L1424.4 1019.3L1416.7 1020.6L1410.2 1024.5L1403.7 1025.7L1400.6 1020.6L1396.0 1012.8L1389.5 1015.4L1386.9 1007.6L1385.6 999.9ZM1305.4 1018.0L1309.3 1016.2L1314.4 1019.3L1318.3 1024.5L1316.3 1028.3L1311.9 1025.7L1307.5 1023.2ZM1320.9 1011.5L1326.6 1011.0L1327.4 1015.4L1324.0 1018.8ZM1258.8 1060.7L1261.4 1059.4L1264.0 1064.6L1271.7 1070.5L1267.9 1075.7L1261.4 1074.9L1257.5 1072.3ZM1318.8 1059.4L1324.8 1056.8L1330.7 1060.7L1330.0 1067.2L1324.8 1071.6L1319.6 1069.7ZM1297.6 1210.8L1306.7 1209.5L1309.3 1218.6L1311.9 1228.9L1316.3 1239.3L1319.6 1250.9L1318.3 1257.4L1311.9 1254.8L1306.7 1252.2L1302.8 1244.4L1301.5 1234.1L1298.9 1223.7ZM1248.8 1554.8L1257.0 1549.2L1260.9 1541.9L1264.8 1538.8L1272.6 1538.3L1266.1 1541.4L1264.3 1550.4L1261.7 1558.2L1255.7 1558.2ZM1272.0 1550.4L1277.7 1546.6L1286.8 1546.6L1289.4 1540.1L1293.3 1537.5L1298.4 1540.1L1304.9 1536.2L1306.2 1542.7L1302.3 1549.2L1308.8 1553.0L1304.9 1559.5L1298.4 1558.2L1294.6 1562.1L1289.4 1560.8L1288.1 1566.0L1284.2 1564.7L1284.2 1558.2L1277.7 1555.6ZM1259.6 1570.4L1266.1 1564.7L1272.0 1566.7L1274.6 1575.0L1270.0 1581.5L1265.3 1582.3L1266.1 1575.0ZM1235.8 1598.8L1242.8 1590.6L1250.6 1589.3L1254.5 1584.9L1259.1 1591.9L1257.0 1597.0L1262.2 1598.8L1270.0 1599.6L1269.5 1607.4L1263.5 1610.0L1266.1 1616.4L1272.6 1619.0L1271.3 1626.8L1275.7 1633.3L1274.6 1637.1L1269.5 1636.6L1266.1 1630.7L1260.1 1628.1L1258.3 1622.9L1254.5 1622.1L1260.9 1617.7L1257.0 1611.3L1254.5 1604.8L1249.3 1603.5L1242.8 1602.2ZM1282.9 1603.0L1289.4 1600.9L1294.6 1594.4L1297.2 1588.0L1295.3 1580.2L1297.2 1575.0L1304.9 1573.7L1302.3 1580.2L1307.5 1586.7L1306.2 1594.4L1310.1 1602.2L1307.5 1610.0L1302.3 1610.0L1304.9 1604.0L1299.7 1600.9L1294.6 1604.8L1288.1 1606.1ZM1220.8 1621.6L1228.6 1619.0L1236.3 1615.1L1242.0 1613.9L1241.0 1621.1L1234.3 1625.5L1237.6 1632.0L1244.1 1638.4L1240.2 1643.6L1235.0 1647.5L1228.6 1643.6L1226.0 1637.1L1228.6 1632.0L1222.9 1630.7ZM1263.5 1648.8L1270.0 1643.6L1276.4 1647.5L1279.0 1652.7L1272.6 1655.3L1264.8 1656.6ZM1243.6 1652.7L1253.2 1652.7L1260.1 1659.1L1262.2 1665.6L1257.0 1673.4L1248.0 1676.0L1245.4 1668.2ZM1246.7 1655.3L1251.9 1657.8L1257.0 1664.3L1254.5 1670.8L1249.3 1672.1L1248.0 1663.0ZM1258.3 1700.5L1264.8 1690.2L1272.6 1685.0L1280.3 1678.6L1286.8 1674.7L1293.3 1676.0L1293.3 1669.5L1286.8 1668.2L1289.4 1664.3L1298.4 1666.9L1306.2 1672.1L1311.4 1678.6L1312.7 1686.3L1308.8 1694.1L1304.9 1700.5L1298.4 1704.4L1290.7 1708.3L1282.9 1712.2L1275.2 1716.1L1267.4 1714.8L1262.2 1708.3ZM1245.4 1729.0L1250.6 1723.8L1260.1 1725.7L1260.9 1733.4L1253.2 1732.9ZM1337.3 1758.8L1343.7 1752.3L1347.6 1745.8L1346.3 1742.0L1354.1 1743.3L1359.3 1747.1L1356.7 1752.3L1359.3 1758.8L1352.8 1758.8L1347.6 1764.0L1341.1 1766.5ZM1401.4 1752.3L1405.8 1745.3L1412.3 1744.5L1416.2 1751.0L1413.6 1758.3L1405.8 1758.8ZM1361.9 1708.3L1367.0 1704.4L1373.5 1705.7L1378.7 1712.2L1381.3 1720.0L1386.4 1723.8L1387.7 1729.8L1380.0 1729.0L1372.2 1726.4L1365.7 1721.3L1362.6 1714.8ZM1385.1 1704.4L1389.0 1697.2L1396.8 1695.4L1404.6 1700.5L1411.0 1699.3L1417.5 1703.1L1418.8 1709.6L1412.3 1713.5L1408.4 1720.0L1402.0 1725.1L1398.1 1718.7L1391.6 1720.0L1386.4 1714.8ZM1421.4 1718.7L1426.6 1713.5L1433.0 1709.6L1438.2 1711.7L1446.0 1710.9L1447.3 1717.4L1439.5 1717.4L1435.6 1722.5L1429.1 1721.3L1424.0 1724.6ZM1433.0 1691.5L1438.2 1690.2L1442.1 1695.4L1440.8 1701.8L1436.1 1699.3ZM1446.0 1687.6L1455.0 1683.7L1464.1 1682.4L1471.8 1683.7L1470.5 1692.8L1464.1 1695.4L1456.3 1696.7L1449.8 1694.1ZM1311.4 1637.1L1316.6 1634.6L1324.3 1638.4L1319.2 1642.3L1321.7 1647.5L1329.5 1652.7L1324.3 1656.6L1317.9 1652.7L1312.7 1646.2ZM1474.4 1629.4L1480.9 1625.5L1487.4 1624.2L1489.4 1632.0L1486.9 1641.0L1480.9 1642.3L1477.0 1635.8ZM1461.5 1654.0L1465.4 1647.5L1470.5 1652.7L1474.4 1659.1L1468.0 1661.7L1462.8 1660.4ZM1582.2 1586.7L1587.4 1581.5L1593.9 1580.2L1596.5 1586.7L1592.6 1591.9L1591.3 1597.0L1596.5 1602.2L1602.9 1608.7L1608.9 1604.8L1614.6 1603.5L1621.8 1605.6L1621.0 1613.9L1619.8 1622.9L1621.8 1628.1L1615.9 1632.0L1608.9 1631.4L1602.9 1632.0L1601.6 1624.2L1600.3 1617.7L1593.9 1618.5L1592.6 1625.5L1586.1 1628.1L1581.4 1621.6L1579.6 1615.1L1575.8 1607.4L1574.5 1600.9L1578.3 1593.1ZM1614.6 1581.5L1608.1 1588.0L1604.2 1595.7L1608.9 1600.9L1617.2 1600.9L1624.9 1603.0L1619.8 1597.0L1621.0 1590.6L1614.6 1586.7ZM1687.0 1581.5L1692.2 1584.1L1698.7 1589.3L1705.2 1581.5L1712.9 1583.3L1719.4 1581.5L1724.6 1586.7L1719.4 1577.6L1717.6 1573.7L1723.3 1569.9L1729.7 1569.3L1732.3 1562.1L1734.9 1555.6L1740.1 1556.9L1741.4 1563.4L1740.1 1569.9L1744.0 1577.6L1742.7 1585.4L1747.9 1584.1L1746.6 1591.9L1741.4 1597.0L1747.9 1602.2L1745.3 1608.2L1740.1 1604.8L1734.9 1607.4L1732.3 1615.1L1736.2 1620.3L1729.7 1621.6L1729.7 1626.8L1723.3 1628.9L1718.1 1629.4L1722.0 1622.9L1719.4 1616.4L1712.9 1613.9L1710.3 1610.0L1716.8 1607.4L1719.4 1600.9L1716.8 1596.3L1711.6 1600.9L1705.2 1603.5L1700.0 1599.6L1698.7 1591.9ZM1671.5 1602.2L1678.0 1599.6L1684.5 1602.2L1687.0 1608.7L1690.1 1616.4L1684.5 1617.7L1680.6 1611.3L1676.7 1606.1ZM1696.1 1604.8L1700.0 1603.5L1703.9 1612.6L1700.0 1617.7L1696.1 1612.6ZM1756.4 1549.2L1763.4 1546.6L1764.7 1553.0L1762.1 1562.1L1758.2 1558.2ZM1560.2 1646.2L1565.4 1639.7L1569.3 1633.3L1568.0 1626.8L1573.2 1632.0L1577.0 1642.3L1575.8 1651.4L1577.8 1659.1L1570.6 1659.1L1562.8 1656.6ZM1557.6 1670.8L1566.7 1667.7L1570.6 1674.7L1576.3 1679.8L1571.9 1682.4L1564.1 1677.3ZM1511.1 1670.8L1516.2 1677.3L1520.1 1685.0L1527.9 1691.5L1527.9 1696.7L1520.1 1699.3L1514.9 1691.5L1511.1 1683.7ZM1480.0 1626.8L1486.5 1624.2L1490.4 1632.0L1487.8 1642.3L1480.0 1643.6L1476.1 1634.6ZM1272.5 1943.9L1276.0 1938.9L1280.4 1936.4L1284.1 1932.0L1285.3 1927.7L1289.7 1927.1L1291.6 1922.7L1296.5 1920.2L1300.9 1915.3L1307.1 1913.4L1317.0 1910.3L1327.0 1907.2L1335.0 1902.9L1343.1 1902.2L1352.4 1900.4L1359.3 1897.3L1364.2 1894.8L1368.0 1896.6L1376.6 1894.8L1385.3 1892.3L1392.8 1893.5L1397.8 1893.5L1399.6 1897.9L1404.0 1900.4L1409.6 1900.4L1413.3 1904.1L1413.9 1908.4L1412.0 1910.9L1415.2 1915.3L1414.5 1921.5L1413.3 1930.2L1411.4 1932.0L1407.7 1933.9L1405.2 1940.1L1402.1 1945.1L1400.2 1949.4L1397.1 1950.7L1389.1 1951.3L1382.9 1956.9L1376.6 1958.8L1370.4 1960.6L1364.8 1960.0L1359.3 1965.0L1356.1 1966.8L1350.6 1965.6L1343.1 1966.2L1338.1 1968.1L1331.9 1969.3L1327.6 1966.2L1323.2 1966.8L1319.5 1965.6L1313.3 1968.1L1304.6 1966.2L1299.6 1969.9L1297.1 1974.9L1293.4 1976.1L1289.7 1971.8L1285.3 1966.2L1279.8 1964.3L1274.8 1958.8L1272.5 1953.8L1272.9 1948.8ZM1418.9 1906.0L1421.4 1901.0L1423.9 1902.2L1425.7 1906.6L1423.2 1909.1L1420.1 1908.4ZM2089.2 980.6L2097.3 976.2L2108.4 973.1L2110.6 974.7L2110.0 977.8L2111.2 981.2L2110.6 985.2L2112.5 987.1L2109.7 989.3L2106.3 990.8L2104.1 994.5L2097.9 993.0L2092.3 990.8L2090.7 987.7L2091.4 984.0Z" fill="none" stroke="#000" stroke-width="3.1" stroke-linejoin="round" stroke-linecap="round"/><path d="M1243.6 1652.7L1253.2 1652.7L1260.1 1659.1L1262.2 1665.6L1257.0 1673.4L1248.0 1676.0L1245.4 1668.2Z" fill="#000" fill-opacity="0.7"/><circle cx="1293.4" cy="1982.6" r="2.6" fill="#000"/><circle cx="1292.8" cy="1994.2" r="2.2" fill="#000"/><circle cx="1418.9" cy="1915.9" r="2.6" fill="#000"/><circle cx="1417.6" cy="1922.7" r="2.2" fill="#000"/><circle cx="1309.8" cy="1797.0" r="2.6" fill="#000"/><circle cx="1300.9" cy="1807.5" r="3.0" fill="#000"/><circle cx="1305.8" cy="1807.8" r="3.0" fill="#000"/><circle cx="1303.4" cy="1810.3" r="3.0" fill="#000"/><circle cx="2280.0" cy="1030.5" r="3.0" fill="#000"/>
</g>
<rect x="333.5" y="362.5" width="1978.0" height="1980.0" fill="none" stroke="#262626" stroke-width="3"/>
<path d="M336.5 364V384M336.5 2321V2340M336 2339H355M2290 2338.5H2310" stroke="#262626" stroke-width="1.2" fill="none"/>
<path d="M337.0 2342.5V2338.0M337.0 362.5V367.0M748.5 2342.5V2338.0M748.5 362.5V367.0M1160.0 2342.5V2338.0M1160.0 362.5V367.0M1571.5 2342.5V2338.0M1571.5 362.5V367.0M1983.0 2342.5V2338.0M1983.0 362.5V367.0M333.5 2339.5H337.0M333.5 2133.8H337.0M333.5 1928.0H337.0M333.5 1722.2H337.0M333.5 1516.5H337.0M333.5 1310.8H337.0M333.5 1105.0H337.0M333.5 899.2H337.0M333.5 693.5H337.0M333.5 487.8H337.0" stroke="#262626" stroke-width="3" fill="none"/>
<path d="M2311.5 2339.5H2308.7M2311.5 2133.8H2308.7M2311.5 1928.0H2308.7M2311.5 1722.2H2308.7M2311.5 1516.5H2308.7M2311.5 1310.8H2308.7M2311.5 1105.0H2308.7M2311.5 899.2H2308.7M2311.5 693.5H2308.7M2311.5 487.8H2308.7" stroke="#262626" stroke-width="2.4" fill="none"/>
<rect x="2355.5" y="2284.1" width="89.0" height="60.7" fill="#ffffff"/>
<rect x="2355.5" y="2224.0" width="89.0" height="60.7" fill="#e0e0e0"/>
<rect x="2355.5" y="2163.9" width="89.0" height="60.7" fill="#87d9ff"/>
<rect x="2355.5" y="2103.8" width="89.0" height="60.7" fill="#3ec1ff"/>
<rect x="2355.5" y="2043.7" width="89.0" height="60.7" fill="#07abff"/>
<rect x="2355.5" y="1983.6" width="89.0" height="60.7" fill="#008dff"/>
<rect x="2355.5" y="1923.5" width="89.0" height="60.7" fill="#0077ff"/>
<rect x="2355.5" y="1863.4" width="89.0" height="60.7" fill="#69fc69"/>
<rect x="2355.5" y="1803.3" width="89.0" height="60.7" fill="#1ef269"/>
<rect x="2355.5" y="1743.2" width="89.0" height="60.7" fill="#00d500"/>
<rect x="2355.5" y="1683.1" width="89.0" height="60.7" fill="#00a400"/>
<rect x="2355.5" y="1623.0" width="89.0" height="60.7" fill="#008000"/>
<rect x="2355.5" y="1562.9" width="89.0" height="60.7" fill="#fff26e"/>
<rect x="2355.5" y="1502.8" width="89.0" height="60.7" fill="#ffe256"/>
<rect x="2355.5" y="1442.7" width="89.0" height="60.7" fill="#ffd039"/>
<rect x="2355.5" y="1382.6" width="89.0" height="60.7" fill="#ffbc1e"/>
<rect x="2355.5" y="1322.5" width="89.0" height="60.7" fill="#ffaa09"/>
<rect x="2355.5" y="1262.4" width="89.0" height="60.7" fill="#ff9c00"/>
<rect x="2355.5" y="1202.3" width="89.0" height="60.7" fill="#ff8b1b"/>
<rect x="2355.5" y="1142.2" width="89.0" height="60.7" fill="#ff8051"/>
<rect x="2355.5" y="1082.1" width="89.0" height="60.7" fill="#ff6e6e"/>
<rect x="2355.5" y="1022.0" width="89.0" height="60.7" fill="#f65e67"/>
<rect x="2355.5" y="961.9" width="89.0" height="60.7" fill="#e84a56"/>
<rect x="2355.5" y="901.8" width="89.0" height="60.7" fill="#d9343e"/>
<rect x="2355.5" y="841.7" width="89.0" height="60.7" fill="#c91f25"/>
<rect x="2355.5" y="781.6" width="89.0" height="60.7" fill="#bc0d0f"/>
<rect x="2355.5" y="721.5" width="89.0" height="60.7" fill="#b30000"/>
<rect x="2355.5" y="661.4" width="89.0" height="60.7" fill="#c57eff"/>
<rect x="2355.5" y="601.3" width="89.0" height="60.7" fill="#c23eff"/>
<rect x="2355.5" y="541.2" width="89.0" height="60.7" fill="#ad07ff"/>
<rect x="2355.5" y="481.1" width="89.0" height="60.7" fill="#9200e4"/>
<rect x="2355.5" y="421.0" width="89.0" height="60.7" fill="#7f00bf"/>
<rect x="2355.5" y="360.9" width="89.0" height="60.7" fill="#333333"/>
<rect x="2355.5" y="361.2" width="89.0" height="1983.3" fill="none" stroke="#262626" stroke-width="3"/>
<path d="M2444.5 2344.5H2423.0M2444.5 2284.4H2423.0M2444.5 2224.3H2423.0M2444.5 2164.2H2423.0M2444.5 2104.1H2423.0M2444.5 2044.0H2423.0M2444.5 1983.9H2423.0M2444.5 1923.8H2423.0M2444.5 1863.7H2423.0M2444.5 1803.6H2423.0M2444.5 1743.5H2423.0M2444.5 1683.4H2423.0M2444.5 1623.3H2423.0M2444.5 1563.2H2423.0M2444.5 1503.1H2423.0M2444.5 1443.0H2423.0M2444.5 1382.9H2423.0M2444.5 1322.8H2423.0M2444.5 1262.7H2423.0M2444.5 1202.6H2423.0M2444.5 1142.5H2423.0M2444.5 1082.4H2423.0M2444.5 1022.3H2423.0M2444.5 962.2H2423.0M2444.5 902.1H2423.0M2444.5 842.0H2423.0M2444.5 781.9H2423.0M2444.5 721.8H2423.0M2444.5 661.7H2423.0M2444.5 601.6H2423.0M2444.5 541.5H2423.0M2444.5 481.4H2423.0M2444.5 421.3H2423.0M2444.5 361.2H2423.0" stroke="#262626" stroke-width="3" fill="none"/>
<text transform="matrix(0.7819 0 0 0.7337 2472.17 2374.48)" fill="#262626">&lt;</text>
<text transform="matrix(0.7242 0 0 0.6864 2470.08 2309.01)" fill="#262626">0.0</text>
<text transform="matrix(0.7242 0 0 0.6864 2470.08 2248.91)" fill="#262626">0.1</text>
<text transform="matrix(0.7242 0 0 0.6864 2470.08 2188.81)" fill="#262626">0.2</text>
<text transform="matrix(0.7242 0 0 0.6864 2470.08 2128.71)" fill="#262626">0.4</text>
<text transform="matrix(0.7242 0 0 0.6864 2470.08 2068.61)" fill="#262626">0.6</text>
<text transform="matrix(0.7242 0 0 0.6864 2470.08 2008.51)" fill="#262626">0.8</text>
<text transform="matrix(0.7242 0 0 0.6864 2472.20 1948.41)" fill="#262626">1.0</text>
<text transform="matrix(0.7242 0 0 0.6864 2472.20 1888.31)" fill="#262626">1.5</text>
<text transform="matrix(0.7242 0 0 0.6864 2470.08 1828.21)" fill="#262626">2.0</text>
<text transform="matrix(0.7242 0 0 0.6864 2470.08 1768.11)" fill="#262626">3.0</text>
<text transform="matrix(0.7242 0 0 0.6864 2470.08 1708.01)" fill="#262626">4.0</text>
<text transform="matrix(0.7242 0 0 0.6864 2470.08 1647.91)" fill="#262626">5.0</text>
<text transform="matrix(0.7242 0 0 0.6864 2470.08 1587.81)" fill="#262626">6.0</text>
<text transform="matrix(0.7242 0 0 0.6864 2470.08 1527.71)" fill="#262626">7.0</text>
<text transform="matrix(0.7242 0 0 0.6864 2470.08 1467.61)" fill="#262626">8.0</text>
<text transform="matrix(0.7242 0 0 0.6864 2470.08 1407.51)" fill="#262626">9.0</text>
<text transform="matrix(0.7242 0 0 0.6864 2472.20 1347.41)" fill="#262626">10</text>
<text transform="matrix(0.7242 0 0 0.6864 2472.20 1287.31)" fill="#262626">12</text>
<text transform="matrix(0.7242 0 0 0.6864 2472.20 1227.21)" fill="#262626">14</text>
<text transform="matrix(0.7242 0 0 0.6864 2472.20 1167.11)" fill="#262626">16</text>
<text transform="matrix(0.7242 0 0 0.6864 2472.20 1107.01)" fill="#262626">18</text>
<text transform="matrix(0.7242 0 0 0.6864 2470.08 1046.91)" fill="#262626">20</text>
<text transform="matrix(0.7242 0 0 0.6864 2470.08 986.81)" fill="#262626">25</text>
<text transform="matrix(0.7242 0 0 0.6864 2470.08 926.71)" fill="#262626">30</text>
<text transform="matrix(0.7242 0 0 0.6864 2470.08 866.61)" fill="#262626">35</text>
<text transform="matrix(0.7242 0 0 0.6864 2470.08 806.51)" fill="#262626">40</text>
<text transform="matrix(0.7242 0 0 0.6864 2470.08 746.41)" fill="#262626">45</text>
<text transform="matrix(0.7242 0 0 0.6864 2470.08 686.31)" fill="#262626">50</text>
<text transform="matrix(0.7242 0 0 0.6864 2470.08 626.21)" fill="#262626">60</text>
<text transform="matrix(0.7242 0 0 0.6864 2470.08 566.11)" fill="#262626">70</text>
<text transform="matrix(0.7242 0 0 0.6864 2470.08 506.01)" fill="#262626">80</text>
<text transform="matrix(0.7242 0 0 0.6864 2470.08 445.91)" fill="#262626">90</text>
<text transform="matrix(0.7242 0 0 0.6864 2472.20 385.81)" fill="#262626">100</text>
<text transform="matrix(0.8206 0 0 0.7669 259.77 2367.88)" fill="#262626">0</text>
<text transform="matrix(0.8206 0 0 0.7669 168.52 2162.13)" fill="#262626">100</text>
<text transform="matrix(0.8206 0 0 0.7669 168.52 1956.38)" fill="#262626">200</text>
<text transform="matrix(0.8206 0 0 0.7669 168.52 1750.63)" fill="#262626">300</text>
<text transform="matrix(0.8206 0 0 0.7669 168.52 1544.88)" fill="#262626">400</text>
<text transform="matrix(0.8206 0 0 0.7669 168.52 1339.13)" fill="#262626">500</text>
<text transform="matrix(0.8206 0 0 0.7669 168.52 1133.38)" fill="#262626">600</text>
<text transform="matrix(0.8206 0 0 0.7669 168.52 927.63)" fill="#262626">700</text>
<text transform="matrix(0.8206 0 0 0.7669 168.52 721.88)" fill="#262626">800</text>
<text transform="matrix(0.8206 0 0 0.7669 168.52 516.13)" fill="#262626">900</text>
<text transform="matrix(0.8373 0 0 0.7825 312.72 2440.82)" fill="#262626">0</text>
<text transform="matrix(0.8373 0 0 0.7825 677.21 2440.82)" fill="#262626">200</text>
<text transform="matrix(0.8373 0 0 0.7825 1089.84 2440.82)" fill="#262626">400</text>
<text transform="matrix(0.8373 0 0 0.7825 1500.17 2440.82)" fill="#262626">600</text>
<text transform="matrix(0.8373 0 0 0.7825 1912.01 2440.82)" fill="#262626">800</text>
<text transform="matrix(0.7939 0 0 0.8459 1673.45 2164.80)" fill="#000000">CVMAE:0.0</text>
<text transform="matrix(0.8586 0 0 0.8343 1673.06 2277.90)" fill="#000000">Max:0.0</text>
<text transform="matrix(0.5336 0 0 0.5596 2444.79 300.50)" fill="#000000">−1</text>
<text transform="matrix(0.6382 0 0 0.6270 2512.79 323.96)" fill="#000000">]</text>
<text transform="matrix(0.7448 0 0 0.8154 587.91 320.70)" font-weight="bold" fill="#000000">RR</text>
<text transform="matrix(0.7979 0 0 0.7846 1093.61 316.28)" font-weight="bold" fill="#000000">(</text>
<text transform="matrix(0.9342 0 0 0.8291 1125.93 320.67)" font-weight="bold" fill="#000000">202301201830,</text>
<text transform="matrix(0.8778 0 0 0.8291 1798.71 320.67)" font-weight="bold" fill="#000000">#:641</text>
<text transform="matrix(0.8262 0 0 0.7846 2029.62 316.28)" font-weight="bold" fill="#000000">)</text>
<text transform="matrix(0.8342 0 0 0.7653 1186.18 2534.88)" fill="#262626">[</text>
<text transform="matrix(0.9113 0 0 0.8428 1215.41 2540.50)" fill="#262626">x1km</text>
<text transform="matrix(0.8593 0 0 0.7653 1435.71 2534.88)" fill="#262626">]</text>
<text transform="matrix(0.6830 0 0 0.7771 725.78 315.74)" font-weight="bold" fill="#000000">[</text>
<text transform="matrix(0.9345 0 0 0.8455 751.83 320.70)" font-weight="bold" fill="#000000">mm/hr</text>
<text transform="matrix(0.6868 0 0 0.7771 1041.88 315.74)" font-weight="bold" fill="#000000">]</text>
<text transform="matrix(0.6533 0 0 0.6270 2262.16 323.96)" fill="#000000">[</text>
<text transform="matrix(0.7188 0 0 0.6759 2283.26 327.50)" fill="#000000">mmh</text>
<text transform="matrix(0 -0.7839 0.7760 0 125.26 1486.87)" fill="#262626">[</text>
<text transform="matrix(0 -0.9091 0.8414 0 130.00 1460.59)" fill="#262626">x1km</text>
<text transform="matrix(0 -0.7588 0.7760 0 125.26 1241.31)" fill="#262626">]</text>
</svg></body></html>
